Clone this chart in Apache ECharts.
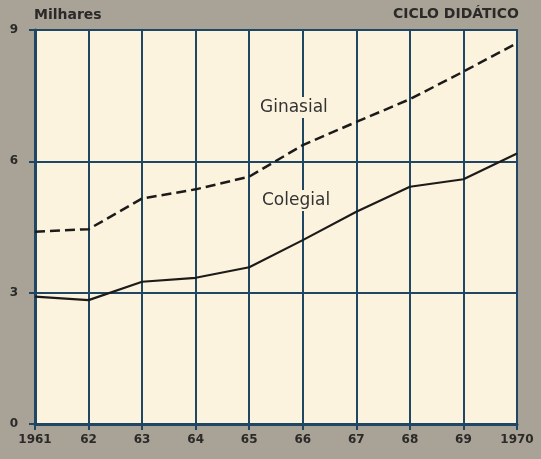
<!DOCTYPE html>
<html>
<head>
<meta charset="utf-8">
<script src="https://cdn.jsdelivr.net/npm/echarts@6/dist/echarts.min.js"></script>
<style>
  html, body { margin: 0; padding: 0; background: #a9a297; }
  #chart { width: 541px; height: 459px; }
</style>
</head>
<body>
<div id="chart"></div>
<script>
// anos (eixo x)
const years = ['1961', '62', '63', '64', '65', '66', '67', '68', '69', '1970']
// milhares de alunos
const ginasial = [4.39, 4.45, 5.15, 5.36, 5.65, 6.37, 6.90, 7.42, 8.05, 8.70]
const colegial = [2.91, 2.83, 3.25, 3.34, 3.58, 4.20, 4.85, 5.42, 5.59, 6.18]
const yTicks = [0, 3, 6, 9]

const gridColor = '#1f4763'
const inkColor = '#2b2a28'
const font = 'DejaVu Sans'

const chart = echarts.init(document.getElementById('chart'))

const option = {
  backgroundColor: '#a9a297',
  animation: false,
  grid: {
    left: 35, right: 24, top: 30, bottom: 35,
    show: true,
    backgroundColor: '#fcf3de',
    borderColor: gridColor,
    borderWidth: 2
  },
  xAxis: {
    type: 'category',
    data: years,
    boundaryGap: false,
    axisLine: { lineStyle: { color: gridColor, width: 3 } },
    axisTick: { show: true, length: 6, lineStyle: { color: gridColor, width: 2 } },
    axisLabel: { color: inkColor, fontFamily: font, fontWeight: 'bold', fontSize: 12, margin: 10 },
    splitLine: { show: true, lineStyle: { color: gridColor, width: 2 } }
  },
  yAxis: {
    type: 'value',
    min: 0, max: 9, interval: 3,
    axisLine: { show: true, lineStyle: { color: gridColor, width: 3 } },
    axisTick: { show: true, length: 6, lineStyle: { color: gridColor, width: 2 } },
    axisLabel: {
      color: inkColor, fontFamily: font, fontWeight: 'bold', fontSize: 12, margin: 17,
      formatter: v => yTicks.includes(v) ? String(v) : ''
    },
    splitLine: { show: true, lineStyle: { color: gridColor, width: 2 } }
  },
  series: [
    {
      name: 'Ginasial',
      type: 'line',
      data: ginasial,
      symbol: 'none',
      lineStyle: { color: '#1c1b1a', width: 2.5, type: [10, 5] },
      z: 5
    },
    {
      name: 'Colegial',
      type: 'line',
      data: colegial,
      symbol: 'none',
      lineStyle: { color: '#1c1b1a', width: 2.2 },
      z: 5
    }
  ],
  graphic: [
    {
      type: 'text', left: 34, top: 8,
      style: { text: 'Milhares', fill: inkColor, font: 'bold 14px "DejaVu Sans"' }
    },
    {
      type: 'text', right: 22, top: 7,
      style: { text: 'CICLO DIDÁTICO', fill: inkColor, font: 'bold 14px "DejaVu Sans"' }
    },
    {
      type: 'text', left: 258, top: 97, z: 10,
      style: {
        text: 'Ginasial', fill: '#333', font: '17px "DejaVu Sans"',
        backgroundColor: '#fcf3de', padding: [2, 2]
      }
    },
    {
      type: 'text', left: 260, top: 190, z: 10,
      style: {
        text: 'Colegial', fill: '#333', font: '17px "DejaVu Sans"',
        backgroundColor: '#fcf3de', padding: [2, 2]
      }
    }
  ]
}

chart.setOption(option)
</script>
</body>
</html>
